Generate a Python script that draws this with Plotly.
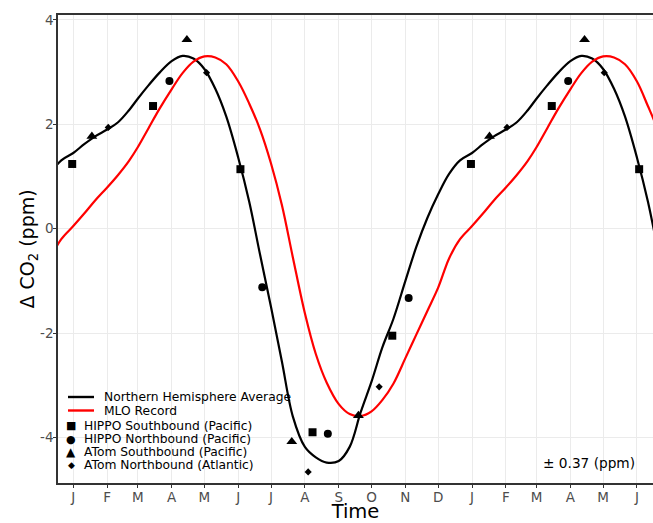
import plotly.graph_objects as go

# ---------------- data ----------------
nh_dates = [
    "2000-11-21", "2000-12-01", "2000-12-11", "2000-12-21",
    "2001-01-01", "2001-01-11", "2001-01-21", "2001-02-01", "2001-02-11", "2001-02-21",
    "2001-03-01", "2001-03-11", "2001-03-21", "2001-04-01", "2001-04-11", "2001-04-21",
    "2001-05-01", "2001-05-11", "2001-05-21", "2001-06-01", "2001-06-11", "2001-06-21",
    "2001-07-01", "2001-07-11", "2001-07-21", "2001-08-01", "2001-08-11", "2001-08-21",
    "2001-09-01", "2001-09-11", "2001-09-21", "2001-10-01", "2001-10-11", "2001-10-21",
    "2001-11-01", "2001-11-11", "2001-11-21", "2001-12-01", "2001-12-11", "2001-12-21",
    "2002-01-01", "2002-01-11", "2002-01-21", "2002-02-01", "2002-02-11", "2002-02-21",
    "2002-03-01", "2002-03-11", "2002-03-21", "2002-04-01", "2002-04-11", "2002-04-21",
    "2002-05-01", "2002-05-11", "2002-05-21", "2002-06-01", "2002-06-11", "2002-06-21",
    "2002-07-01",
]
nh_values = [
    0.20, 0.66, 1.05, 1.31,
    1.45, 1.62, 1.77, 1.90, 2.04, 2.27,
    2.49, 2.75, 2.99, 3.21, 3.31, 3.26,
    3.06, 2.68, 2.15, 1.36, 0.52, -0.50,
    -1.50, -2.55, -3.60, -4.18, -4.38, -4.48,
    -4.45, -4.18, -3.52, -2.93, -2.27, -1.73,
    -1.00, -0.35, 0.20, 0.66, 1.05, 1.31,
    1.45, 1.62, 1.77, 1.90, 2.04, 2.27,
    2.49, 2.75, 2.99, 3.21, 3.31, 3.26,
    3.06, 2.68, 2.15, 1.36, 0.52, -0.50,
    -1.50,
]

mlo_dates = list(nh_dates)
mlo_values = [
    -1.58, -1.13, -0.57, -0.20,
    0.05, 0.29, 0.54, 0.79, 1.03, 1.30,
    1.56, 1.93, 2.30, 2.67, 2.98, 3.20,
    3.30, 3.28, 3.15, 2.82, 2.40, 1.90,
    1.25, 0.45, -0.55, -1.62, -2.40, -2.95,
    -3.36, -3.55, -3.59, -3.50, -3.28, -2.97,
    -2.48, -2.03, -1.58, -1.13, -0.57, -0.20,
    0.05, 0.29, 0.54, 0.79, 1.03, 1.30,
    1.56, 1.93, 2.30, 2.67, 2.98, 3.20,
    3.30, 3.28, 3.15, 2.82, 2.35, 1.85,
    1.25,
]

hippo_s_dates = ["2000-12-31", "2001-03-15", "2001-06-03", "2001-08-08", "2001-10-20",
                 "2001-12-31", "2002-03-15", "2002-06-03"]
hippo_s_values = [1.24, 2.35, 1.14, -3.90, -2.05, 1.24, 2.35, 1.14]

hippo_n_dates = ["2001-03-30", "2001-06-23", "2001-08-22", "2001-11-04", "2002-03-30"]
hippo_n_values = [2.83, -1.12, -3.93, -1.33, 2.83]

atom_s_dates = ["2001-01-18", "2001-04-15", "2001-07-20", "2001-09-19",
                "2002-01-17", "2002-04-14"]
atom_s_values = [1.77, 3.62, -4.08, -3.58, 1.77, 3.62]

atom_n_dates = ["2001-02-02", "2001-05-03", "2001-08-04", "2001-10-08",
                "2002-02-02", "2002-05-02"]
atom_n_values = [1.94, 2.99, -4.66, -3.03, 1.94, 2.99]

month_tick_dates = [
    "2001-01-01", "2001-02-01", "2001-03-01", "2001-04-01", "2001-05-01", "2001-06-01",
    "2001-07-01", "2001-08-01", "2001-09-01", "2001-10-01", "2001-11-01", "2001-12-01",
    "2002-01-01", "2002-02-01", "2002-03-01", "2002-04-01", "2002-05-01", "2002-06-01",
]
month_tick_labels = ["J", "F", "M", "A", "M", "J", "J", "A", "S", "O", "N", "D",
                     "J", "F", "M", "A", "M", "J"]
y_tick_values = [-4, -2, 0, 2, 4]
y_tick_labels = ["-4", "-2", "0", "2", "4"]

series_names = ["Northern Hemisphere Average", "MLO Record",
                "HIPPO Southbound (Pacific)", "HIPPO Northbound (Pacific)",
                "ATom Southbound (Pacific)", "ATom Northbound (Atlantic)"]
uncertainty_text = "± 0.37 (ppm)"

# ---------------- figure ----------------
FONT = "DejaVu Sans"
fig = go.Figure()

fig.add_trace(go.Scatter(x=nh_dates, y=nh_values, mode="lines", name=series_names[0],
                         line=dict(color="black", width=2.2, shape="spline", smoothing=1.0),
                         showlegend=False))
fig.add_trace(go.Scatter(x=mlo_dates, y=mlo_values, mode="lines", name=series_names[1],
                         line=dict(color="#ff0000", width=2.2, shape="spline", smoothing=1.0),
                         showlegend=False))

marker_specs = [
    (hippo_s_dates, hippo_s_values, "square", 8),
    (hippo_n_dates, hippo_n_values, "circle", 8),
    (atom_s_dates, atom_s_values, "triangle-up", 9.5),
    (atom_n_dates, atom_n_values, "diamond", 5.5),
]
for (xs, ys, sym, sz), nm in zip(marker_specs, series_names[2:]):
    fig.add_trace(go.Scatter(x=xs, y=ys, mode="markers", name=nm,
                             marker=dict(symbol=sym, size=sz, color="black",
                                         line=dict(width=0)),
                             showlegend=False))

# ---- legend drawn in paper coordinates ----
W, H = 653, 523
L, R, T, B = 58, 0, 15, 40
pw, ph = W - L - R, H - T - B

def px(xp):
    return (xp - L) / pw

def py(yp):
    return (H - B - yp) / ph

line_rows = [(397, "black"), (410.5, "#ff0000")]
for (yy, col), nm in zip(line_rows, series_names[:2]):
    fig.add_shape(type="line", xref="paper", yref="paper",
                  x0=px(68), x1=px(94), y0=py(yy), y1=py(yy),
                  line=dict(color=col, width=2.4))
    fig.add_annotation(xref="paper", yref="paper", x=px(102), y=py(yy),
                       xanchor="left", yanchor="middle", showarrow=False,
                       text=nm, font=dict(family=FONT, size=12.3, color="black"))

marker_rows = [(425.5, "■", 11), (439, "●", 11), (452, "▲", 12), (465.3, "◆", 9)]
for (yy, glyph, gs), nm in zip(marker_rows, series_names[2:]):
    fig.add_annotation(xref="paper", yref="paper", x=px(71), y=py(yy),
                       xanchor="center", yanchor="middle", showarrow=False,
                       text=glyph, font=dict(family=FONT, size=gs, color="black"))
    fig.add_annotation(xref="paper", yref="paper", x=px(82), y=py(yy),
                       xanchor="left", yanchor="middle", showarrow=False,
                       text=nm, font=dict(family=FONT, size=12.3, color="black"))

fig.add_annotation(xref="paper", yref="paper", x=px(637), y=py(463),
                   xanchor="right", yanchor="middle", showarrow=False,
                   text=uncertainty_text, font=dict(family=FONT, size=13.7, color="black"))

fig.update_layout(
    width=W, height=H,
    margin=dict(l=L, r=R, t=T, b=B, pad=0, autoexpand=False),
    paper_bgcolor="white", plot_bgcolor="white",
    font=dict(family=FONT, color="black"),
    showlegend=False,
)
fig.update_xaxes(
    type="date", range=["2000-12-18", "2002-06-15 16:00"], automargin=False,
    tickmode="array", tickvals=month_tick_dates, ticktext=month_tick_labels,
    tickfont=dict(family=FONT, size=13.5, color="#4d4d4d"), ticklabelstandoff=-2,
    ticks="outside", ticklen=3, tickwidth=1, tickcolor="#333333",
    showgrid=True, gridcolor="#ebebeb", gridwidth=1,
    showline=True, linecolor="#333333", linewidth=1.5, mirror=True,
    zeroline=False,
    title=dict(text="Time", font=dict(family=FONT, size=19.5, color="black"), standoff=10),
)
fig.update_yaxes(
    range=[-4.872, 4.094], automargin=False,
    tickmode="array", tickvals=y_tick_values, ticktext=y_tick_labels,
    tickfont=dict(family=FONT, size=13.5, color="#4d4d4d"), ticklabelstandoff=-3,
    ticks="outside", ticklen=3, tickwidth=1, tickcolor="#333333",
    showgrid=True, gridcolor="#ebebeb", gridwidth=1,
    showline=True, linecolor="#333333", linewidth=1.5, mirror=False,
    zeroline=False,
    title=dict(text="Δ CO<sub>2</sub> (ppm)", font=dict(family=FONT, size=19, color="black"),
               standoff=0),
)

fig.write_html(
    "out.html",
    config={"displayModeBar": False},
    post_script="document.body.style.margin='0px';"
                "document.documentElement.style.overflow='hidden';",
)
